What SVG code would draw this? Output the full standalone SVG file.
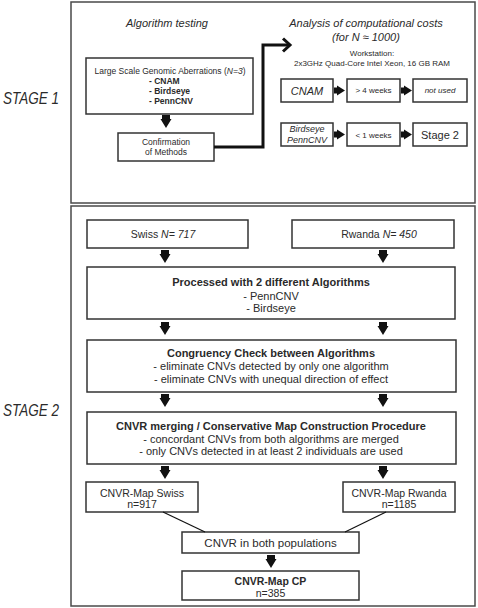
<svg xmlns="http://www.w3.org/2000/svg" width="478" height="608" viewBox="0 0 478 608">
<style>
text{font-family:"Liberation Sans",Arial,sans-serif;fill:#2a2a2a;text-anchor:middle}
.frame{fill:#fff;stroke:#4a4a4a;stroke-width:1.5}
.box{fill:#fff;stroke:#333;stroke-width:1.5}
.it{font-style:italic}
.b{font-weight:bold}
.stage{font-size:16px;font-style:italic;text-anchor:start}
.s8{font-size:8px}
.s85{font-size:8.5px}
.s10{font-size:10.5px}
.s11{font-size:11px}
.conn{fill:none;stroke:#111;stroke-width:1.2}
</style>
<defs>
<path id="ad" d="M-4,0 H4 V4 H5.5 L0,13 L-5.5,4 H-4 Z" fill="#111"/>
<path id="ar" d="M0,-3 V3 H3 V5 L11,0 L3,-5 V-3 Z" fill="#111"/>
</defs>
<rect width="478" height="608" fill="#fff"/>
<text class="stage" x="3" y="104" textLength="56" lengthAdjust="spacingAndGlyphs">STAGE 1</text>
<text class="stage" x="3" y="416" textLength="56" lengthAdjust="spacingAndGlyphs">STAGE 2</text>
<rect class="frame" x="71" y="2" width="404" height="201"/>
<rect class="frame" x="71" y="206" width="404" height="400"/>
<g id="stage1-titles">
<text class="s11 it" x="167" y="27">Algorithm testing</text>
<text class="s11 it" x="366" y="27">Analysis of computational costs</text>
<text class="s11 it" x="366" y="41">(for N ≈ 1000)</text>
<text class="s8" x="372" y="56">Workstation:</text>
<text class="s8" x="372" y="66">2x3GHz Quad-Core Intel Xeon, 16 GB RAM</text>
</g>
<g id="large-scale">
<rect class="box" x="86" y="58" width="167" height="56"/>
<text class="s85" x="170" y="74">Large Scale Genomic Aberrations (<tspan class="it">N=3</tspan>)</text>
<text class="s85 b" x="149" y="84" style="text-anchor:start">- CNAM</text>
<text class="s85 b" x="149" y="94" style="text-anchor:start">- Birdseye</text>
<text class="s85 b" x="149" y="104" style="text-anchor:start">- PennCNV</text>
</g>
<g id="confirmation">
<rect class="box" x="118" y="133" width="96" height="28"/>
<text class="s85" x="166" y="145">Confirmation</text>
<text class="s85" x="166" y="155">of Methods</text>
</g>
<g id="cnam">
<rect class="box" x="281" y="79" width="52" height="23"/>
<text class="s11 it" x="307" y="94.5">CNAM</text>
</g>
<g id="gt4weeks">
<rect class="box" x="347" y="79" width="53" height="23"/>
<text class="s8" x="373.5" y="92.5">&gt; 4 weeks</text>
</g>
<g id="notused">
<rect class="box" x="413" y="79" width="54" height="23"/>
<text class="s8 it" x="440" y="93">not used</text>
</g>
<g id="birdseye-penncnv">
<rect class="box" x="281" y="123" width="52" height="23"/>
<text class="it" style="font-size:9px" x="307" y="132">Birdseye</text>
<text class="it" style="font-size:9px" x="307" y="143">PennCNV</text>
</g>
<g id="lt1weeks">
<rect class="box" x="347" y="123" width="53" height="23"/>
<text class="s8" x="373.5" y="137.5">&lt; 1 weeks</text>
</g>
<g id="stage2-box">
<rect class="box" x="413" y="123" width="54" height="23"/>
<text class="s11" x="440" y="138.5">Stage 2</text>
</g>
<g id="swiss">
<rect class="box" x="87" y="220" width="161" height="28"/>
<text class="s10" x="163" y="237.5">Swiss <tspan class="it">N= 717</tspan></text>
</g>
<g id="rwanda">
<rect class="box" x="292" y="220" width="162" height="28"/>
<text class="s10" x="379" y="237.5">Rwanda <tspan class="it">N= 450</tspan></text>
</g>
<g id="processed">
<rect class="box" x="87" y="267" width="368" height="52"/>
<text class="s11 b" x="271" y="286">Processed with 2 different Algorithms</text>
<text class="s11" x="271" y="299.5">- PennCNV</text>
<text class="s11" x="271" y="312">- Birdseye</text>
</g>
<g id="congruency">
<rect class="box" x="87" y="340" width="369" height="52"/>
<text class="s11 b" x="271" y="357">Congruency Check between Algorithms</text>
<text class="s11" x="271" y="370">- eliminate CNVs detected by only one algorithm</text>
<text class="s11" x="271" y="383">- eliminate CNVs with unequal direction of effect</text>
</g>
<g id="merging">
<rect class="box" x="87" y="412" width="369" height="52"/>
<text class="s11 b" x="271" y="430">CNVR merging / Conservative Map Construction Procedure</text>
<text class="s11" x="271" y="442.5">- concordant CNVs from both algorithms are merged</text>
<text class="s11" x="271" y="455">- only CNVs detected in at least 2 individuals are used</text>
</g>
<g id="map-swiss">
<rect class="box" x="86" y="482" width="112" height="30"/>
<text class="s10" x="142" y="496.5">CNVR-Map Swiss</text>
<text class="s10" x="142" y="507.5">n=917</text>
</g>
<g id="map-rwanda">
<rect class="box" x="343" y="482" width="112" height="30"/>
<text class="s10" x="399" y="496.5">CNVR-Map Rwanda</text>
<text class="s10" x="399" y="507.5">n=1185</text>
</g>
<g id="both">
<rect class="box" x="182" y="532" width="177" height="21"/>
<text style="font-size:11.5px" x="270.5" y="546.5">CNVR in both populations</text>
</g>
<g id="map-cp">
<rect class="box" x="182" y="571" width="177" height="29"/>
<text class="s10 b" x="270.5" y="584.5">CNVR-Map CP</text>
<text class="s10" x="270.5" y="596.5">n=385</text>
</g>
<g id="connectors">
<use href="#ad" x="166" y="115"/>
<polyline points="214,147 263,147 263,45 289,45" fill="none" stroke="#111" stroke-width="3"/>
<polyline points="283,38.5 290,45 283,51.5" fill="none" stroke="#111" stroke-width="3"/>
<use href="#ar" x="334" y="90.5"/>
<use href="#ar" x="401" y="90.5"/>
<use href="#ar" x="334" y="134.5"/>
<use href="#ar" x="401" y="134.5"/>
<use href="#ad" x="165" y="250"/>
<use href="#ad" x="383" y="250"/>
<use href="#ad" x="165" y="322"/>
<use href="#ad" x="383" y="322"/>
<use href="#ad" x="165" y="394"/>
<use href="#ad" x="383" y="394"/>
<use href="#ad" x="165" y="466"/>
<use href="#ad" x="383" y="466"/>
<line class="conn" x1="163" y1="512" x2="205" y2="532"/>
<line class="conn" x1="386" y1="512" x2="345" y2="532"/>
<use href="#ad" x="271" y="555"/>
</g>
</svg>
